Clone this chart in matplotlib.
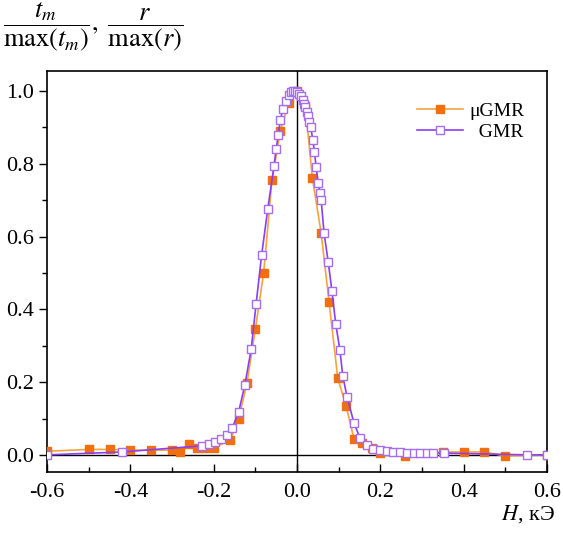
import numpy as np
import matplotlib
matplotlib.use("Agg")
from matplotlib import pyplot as plt
from matplotlib.ticker import MultipleLocator

plt.rcParams["font.family"] = ["Liberation Serif", "DejaVu Serif"]
plt.rcParams["mathtext.fontset"] = "stix"

# muGMR (orange, filled squares)
h_mu = [-0.6, -0.5, -0.45, -0.4, -0.35, -0.3, -0.28, -0.26, -0.24, -0.22, -0.2,
        -0.16, -0.14, -0.12, -0.1, -0.08, -0.06, -0.04, -0.02, 0.0, 0.02, 0.037,
        0.058, 0.077, 0.098, 0.118, 0.137, 0.156, 0.18, 0.2, 0.26, 0.35, 0.4,
        0.45, 0.5, 0.6]
t_mu = [0.01, 0.015, 0.015, 0.013, 0.013, 0.013, 0.008, 0.03, 0.02, 0.02, 0.02,
        0.04, 0.10, 0.197, 0.345, 0.5, 0.755, 0.89, 0.967, 1.0, 0.96, 0.76,
        0.61, 0.42, 0.21, 0.134, 0.043, 0.033, 0.02, 0.006, -0.003, 0.008, 0.008,
        0.008, -0.003, 0.0]

# GMR (purple, open squares)
h_gmr = [-0.6, -0.42, -0.228, -0.21, -0.197, -0.182, -0.168, -0.155, -0.14, -0.125,
         -0.11, -0.098, -0.085, -0.07, -0.055, -0.05, -0.045, -0.04, -0.034, -0.027,
         -0.02, -0.015, -0.01, -0.005, 0.0, 0.005, 0.01, 0.014, 0.017, 0.02, 0.023,
         0.026, 0.029, 0.033, 0.038, 0.042, 0.046, 0.051, 0.055, 0.058, 0.065, 0.075,
         0.084, 0.093, 0.103, 0.11, 0.12, 0.137, 0.151, 0.168, 0.183, 0.2, 0.216,
         0.23, 0.247, 0.264, 0.28, 0.295, 0.312, 0.327, 0.353, 0.553, 0.6]
r_gmr = [0.0, 0.008, 0.025, 0.03, 0.035, 0.044, 0.055, 0.075, 0.118, 0.193,
         0.29, 0.416, 0.548, 0.677, 0.795, 0.84, 0.88, 0.92, 0.95, 0.973,
         0.99, 0.997, 1.0, 1.0, 0.998, 0.993, 0.985, 0.975, 0.965, 0.955, 0.943,
         0.93, 0.915, 0.9, 0.866, 0.833, 0.79, 0.748, 0.72, 0.70, 0.61, 0.53,
         0.45, 0.36, 0.288, 0.217, 0.16, 0.087, 0.047, 0.028, 0.016, 0.013, 0.011,
         0.008, 0.007, 0.006, 0.006, 0.006, 0.006, 0.005, 0.005, 0.0, 0.0]

fig = plt.figure(figsize=(5.63, 5.38), dpi=100)
ax = fig.add_axes([0.0835, 0.1227, 0.888, 0.7453])

ax.axvline(0, color="black", lw=1.0, zorder=1)
ax.axhline(0, color="black", lw=1.0, zorder=1)

ax.plot(h_mu, t_mu, color="#f5a341", lw=1.2, marker="s", ms=5.5,
        mfc="#f26f0f", mec="#f26f0f", label="μGMR", zorder=3)
ax.plot(h_gmr, r_gmr, color="#8a3ff0", lw=1.2, marker="s", ms=5.5,
        mfc="white", mec="#a66cf2", mew=1.0, label="  GMR", zorder=4)

ax.set_xlim(-0.6, 0.6)
ax.set_ylim(-0.047, 1.055)
ax.xaxis.set_major_locator(MultipleLocator(0.2))
ax.xaxis.set_minor_locator(MultipleLocator(0.1))
ax.yaxis.set_major_locator(MultipleLocator(0.2))
ax.yaxis.set_minor_locator(MultipleLocator(0.1))
ax.xaxis.set_major_formatter(plt.FuncFormatter(lambda v, p: f"{v:.1f}".replace("-0.0", "0.0")))
ax.yaxis.set_major_formatter(plt.FuncFormatter(lambda v, p: f"{v:.1f}"))
ax.tick_params(axis="x", which="both", direction="in", labelsize=16, pad=8)
ax.tick_params(axis="y", which="both", direction="out", labelsize=16)
ax.tick_params(which="major", length=6, width=1.0)
ax.tick_params(which="minor", length=3.5, width=1.0)
for s in ax.spines.values():
    s.set_linewidth(1.2)

leg = ax.legend(loc="upper right", bbox_to_anchor=(0.99, 0.965), frameon=False,
                fontsize=14, handlelength=2.4, handletextpad=0.3, labelspacing=0.15)

fig.text(0.005, 0.998,
         r"$\dfrac{t_m}{\mathrm{max}(t_m)},\ \dfrac{r}{\mathrm{max}(r)}$",
         ha="left", va="top", fontsize=19)
fig.text(0.985, 0.025, r"$H$, кЭ", ha="right", va="bottom", fontsize=16)

fig.savefig("out.png", dpi=100)
